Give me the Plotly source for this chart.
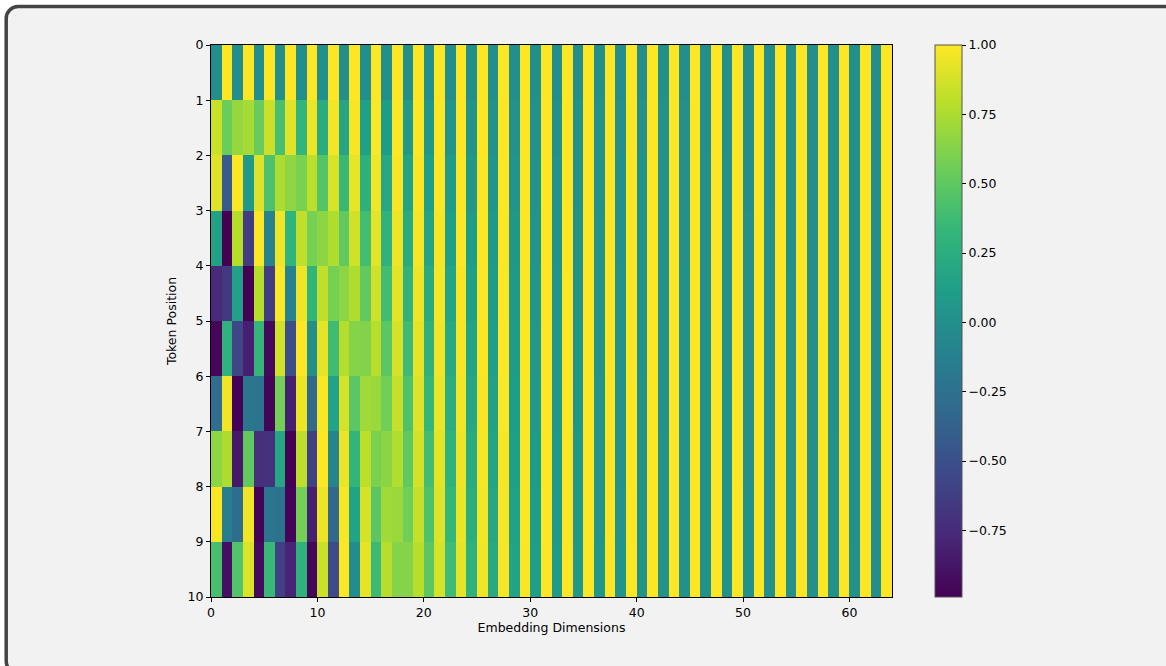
import numpy as np
import plotly.graph_objects as go

# ---- data: positional-encoding values (rows = token positions 0..9, 64 embedding dims) ----
positions = list(range(10))
n_dims = 64

row_0 = [0.0, 1.0] * 32
row_1 = [0.841, 0.540, 0.682, 0.732, 0.533, 0.846, 0.409, 0.912, 0.311, 0.950, 0.235, 0.972, 0.177, 0.984, 0.133, 0.991,
         0.100, 0.995, 0.075, 0.997, 0.056, 0.998, 0.042, 0.999, 0.032, 0.999, 0.024, 1.000, 0.018, 1.000, 0.013, 1.000,
         0.010, 1.000, 0.007, 1.000, 0.006, 1.000, 0.004, 1.000, 0.003, 1.000, 0.002, 1.000, 0.002, 1.000, 0.001, 1.000,
         0.001, 1.000, 0.001, 1.000, 0.001, 1.000, 0.000, 1.000, 0.000, 1.000, 0.000, 1.000, 0.000, 1.000, 0.000, 1.000]
row_2 = [0.909, -0.416, 0.997, 0.071, 0.902, 0.431, 0.747, 0.665, 0.591, 0.807, 0.457, 0.890, 0.348, 0.937, 0.264, 0.965,
         0.199, 0.980, 0.149, 0.989, 0.112, 0.994, 0.084, 0.996, 0.063, 0.998, 0.047, 0.999, 0.036, 0.999, 0.027, 1.000,
         0.020, 1.000, 0.015, 1.000, 0.011, 1.000, 0.008, 1.000, 0.006, 1.000, 0.005, 1.000, 0.004, 1.000, 0.003, 1.000,
         0.002, 1.000, 0.001, 1.000, 0.001, 1.000, 0.001, 1.000, 0.001, 1.000, 0.000, 1.000, 0.000, 1.000, 0.000, 1.000]
row_3 = [0.141, -0.990, 0.778, -0.628, 0.993, -0.116, 0.954, 0.301, 0.813, 0.583, 0.653, 0.757, 0.509, 0.861, 0.390, 0.921,
         0.296, 0.955, 0.223, 0.975, 0.168, 0.986, 0.126, 0.992, 0.095, 0.996, 0.071, 0.997, 0.053, 0.999, 0.040, 0.999,
         0.030, 1.000, 0.022, 1.000, 0.017, 1.000, 0.013, 1.000, 0.009, 1.000, 0.007, 1.000, 0.005, 1.000, 0.004, 1.000,
         0.003, 1.000, 0.002, 1.000, 0.002, 1.000, 0.001, 1.000, 0.001, 1.000, 0.001, 1.000, 0.001, 1.000, 0.000, 1.000]
row_4 = [-0.757, -0.654, 0.141, -0.990, 0.778, -0.628, 0.993, -0.116, 0.954, 0.301, 0.813, 0.583, 0.653, 0.758, 0.509, 0.861,
         0.389, 0.921, 0.296, 0.955, 0.223, 0.975, 0.168, 0.986, 0.126, 0.992, 0.095, 0.996, 0.071, 0.997, 0.053, 0.999,
         0.040, 0.999, 0.030, 1.000, 0.022, 1.000, 0.017, 1.000, 0.013, 1.000, 0.009, 1.000, 0.007, 1.000, 0.005, 1.000,
         0.004, 1.000, 0.003, 1.000, 0.002, 1.000, 0.002, 1.000, 0.001, 1.000, 0.001, 1.000, 0.001, 1.000, 0.001, 1.000]
row_5 = [-0.959, 0.284, -0.571, -0.821, 0.324, -0.946, 0.859, -0.512, 1.000, -0.010, 0.927, 0.376, 0.777, 0.630, 0.619, 0.786,
         0.479, 0.878, 0.366, 0.931, 0.278, 0.961, 0.209, 0.978, 0.158, 0.988, 0.118, 0.993, 0.089, 0.996, 0.067, 0.998,
         0.050, 0.999, 0.037, 0.999, 0.028, 1.000, 0.021, 1.000, 0.016, 1.000, 0.012, 1.000, 0.009, 1.000, 0.007, 1.000,
         0.005, 1.000, 0.004, 1.000, 0.003, 1.000, 0.002, 1.000, 0.002, 1.000, 0.001, 1.000, 0.001, 1.000, 0.001, 1.000]
row_6 = [-0.279, 0.960, -0.977, -0.212, -0.230, -0.973, 0.574, -0.819, 0.947, -0.321, 0.989, 0.148, 0.876, 0.483, 0.717, 0.697,
         0.565, 0.825, 0.435, 0.901, 0.331, 0.944, 0.250, 0.968, 0.189, 0.982, 0.142, 0.990, 0.106, 0.994, 0.080, 0.997,
         0.060, 0.998, 0.045, 0.999, 0.034, 0.999, 0.025, 1.000, 0.019, 1.000, 0.014, 1.000, 0.011, 1.000, 0.008, 1.000,
         0.006, 1.000, 0.004, 1.000, 0.003, 1.000, 0.003, 1.000, 0.002, 1.000, 0.001, 1.000, 0.001, 1.000, 0.001, 1.000]
row_7 = [0.657, 0.754, -0.859, 0.512, -0.714, -0.700, 0.189, -0.982, 0.800, -0.599, 0.996, -0.089, 0.948, 0.320, 0.804, 0.595,
         0.644, 0.765, 0.501, 0.865, 0.384, 0.924, 0.291, 0.957, 0.220, 0.976, 0.165, 0.986, 0.124, 0.992, 0.093, 0.996,
         0.070, 0.998, 0.052, 0.999, 0.039, 0.999, 0.030, 1.000, 0.022, 1.000, 0.017, 1.000, 0.012, 1.000, 0.009, 1.000,
         0.007, 1.000, 0.005, 1.000, 0.004, 1.000, 0.003, 1.000, 0.002, 1.000, 0.002, 1.000, 0.001, 1.000, 0.001, 1.000]
row_8 = [0.989, -0.146, -0.280, 0.960, -0.977, -0.213, -0.230, -0.973, 0.574, -0.819, 0.947, -0.321, 0.989, 0.148, 0.876, 0.483,
         0.717, 0.697, 0.565, 0.825, 0.435, 0.901, 0.331, 0.944, 0.250, 0.968, 0.189, 0.982, 0.142, 0.990, 0.107, 0.994,
         0.080, 0.997, 0.060, 0.998, 0.045, 0.999, 0.034, 0.999, 0.025, 1.000, 0.019, 1.000, 0.014, 1.000, 0.011, 1.000,
         0.008, 1.000, 0.006, 1.000, 0.004, 1.000, 0.003, 1.000, 0.003, 1.000, 0.002, 1.000, 0.001, 1.000, 0.001, 1.000]
row_9 = [0.412, -0.911, 0.449, 0.894, -0.940, 0.342, -0.608, -0.794, 0.291, -0.957, 0.845, -0.534, 1.000, -0.030, 0.932, 0.362,
         0.783, 0.622, 0.625, 0.781, 0.485, 0.875, 0.371, 0.929, 0.280, 0.960, 0.212, 0.977, 0.159, 0.987, 0.120, 0.993,
         0.090, 0.996, 0.067, 0.998, 0.051, 0.999, 0.038, 0.999, 0.028, 1.000, 0.021, 1.000, 0.016, 1.000, 0.012, 1.000,
         0.009, 1.000, 0.007, 1.000, 0.005, 1.000, 0.004, 1.000, 0.003, 1.000, 0.002, 1.000, 0.002, 1.000, 0.001, 1.000]

x_tick_vals = [0, 10, 20, 30, 40, 50, 60]
y_tick_vals = list(range(11))
cbar_tick_vals = [1.0, 0.75, 0.5, 0.25, 0.0, -0.25, -0.5, -0.75]

z = [row_0, row_1, row_2, row_3, row_4, row_5, row_6, row_7, row_8, row_9]
x_edges = np.arange(n_dims + 1)
y_edges = np.arange(len(positions) + 1)

# ---- layout geometry (pixels) ----
W, H = 1166, 666
L, R, T, B = 211, 274, 45, 69
PW, PH = W - L - R, H - T - B
FONT = "DejaVu Sans"
FS = 12.5


def px(xp):
    return (xp - L) / PW


def py(yp):
    return (H - B - yp) / PH


def rounded_rect(x0, y0, x1, y1, r):
    k = 0.45
    pts = [
        f"M {px(x0 + r)} {py(y0)}",
        f"L {px(x1 - r)} {py(y0)}",
        f"C {px(x1 - r * k)} {py(y0)} {px(x1)} {py(y0 + r * k)} {px(x1)} {py(y0 + r)}",
        f"L {px(x1)} {py(y1 - r)}",
        f"C {px(x1)} {py(y1 - r * k)} {px(x1 - r * k)} {py(y1)} {px(x1 - r)} {py(y1)}",
        f"L {px(x0 + r)} {py(y1)}",
        f"C {px(x0 + r * k)} {py(y1)} {px(x0)} {py(y1 - r * k)} {px(x0)} {py(y1 - r)}",
        f"L {px(x0)} {py(y0 + r)}",
        f"C {px(x0)} {py(y0 + r * k)} {px(x0 + r * k)} {py(y0)} {px(x0 + r)} {py(y0)}",
        "Z",
    ]
    return " ".join(pts)


fig = go.Figure()
fig.add_trace(go.Heatmap(
    z=z, x=x_edges, y=y_edges,
    colorscale="Viridis",
    hoverinfo="skip",
    colorbar=dict(
        x=px(935), xanchor="left", xpad=0,
        y=0.5, yanchor="middle", ypad=0,
        len=1, lenmode="fraction",
        thickness=27,
        outlinewidth=1, outlinecolor="#555555",
        tickvals=cbar_tick_vals, tickformat=".2f",
        ticks="outside", ticklen=4, tickwidth=1, tickcolor="#000000",
        tickfont=dict(family=FONT, size=FS, color="#000000"),
    ),
))

fig.update_layout(
    width=W, height=H,
    margin=dict(l=L, r=R, t=T, b=B, autoexpand=False),
    paper_bgcolor="#ffffff",
    plot_bgcolor="#f2f2f2",
    font=dict(family=FONT, size=FS, color="#000000"),
    shapes=[dict(
        type="path", xref="paper", yref="paper", layer="below",
        path=rounded_rect(6.2, 6.5, 1178, 673, 12),
        fillcolor="#f2f2f2", line=dict(color="#444444", width=3.5),
    )],
    xaxis=dict(
        range=[0, n_dims], tickvals=x_tick_vals,
        ticks="outside", ticklen=4, tickwidth=1, tickcolor="#000000",
        showline=True, linecolor="#000000", linewidth=1, mirror=True,
        showgrid=False, zeroline=False,
        title=dict(text="Embedding Dimensions", standoff=4, font=dict(family=FONT, size=FS)),
        tickfont=dict(family=FONT, size=FS),
    ),
    yaxis=dict(
        range=[len(positions), 0], tickvals=y_tick_vals,
        ticks="outside", ticklen=4, tickwidth=1, tickcolor="#000000",
        showline=True, linecolor="#000000", linewidth=1, mirror=True,
        showgrid=False, zeroline=False,
        title=dict(text="Token Position", standoff=8, font=dict(family=FONT, size=FS)),
        tickfont=dict(family=FONT, size=FS),
    ),
)

fig.write_html(
    "out.html",
    config={"displayModeBar": False},
    post_script="document.body.style.margin='0';document.body.style.overflow='hidden';",
)
